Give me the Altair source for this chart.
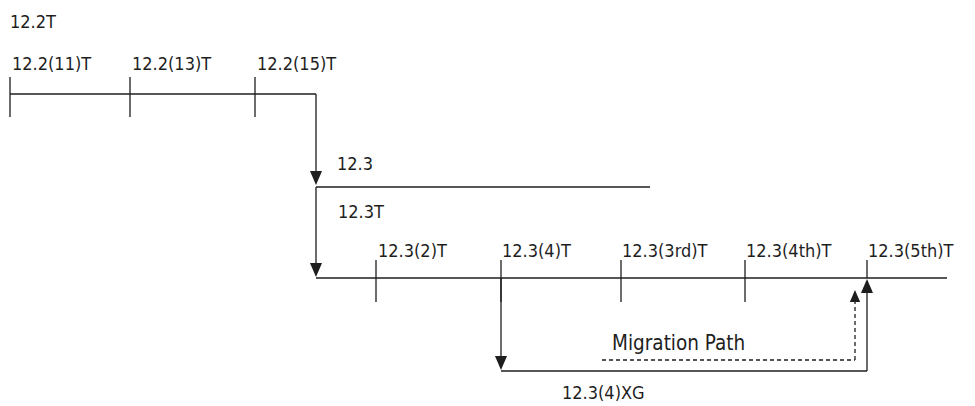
import altair as alt
import pandas as pd

# ---- diagram geometry (in picture pixel space) ----
# release lines (horizontal): name, x start, x end, y
line_names = ["12.2", "12.3", "12.3T", "12.3(4)XG"]
line_x1 = [10, 316, 316, 501]
line_x2 = [316, 650, 947, 867]
line_y = [94, 187, 278, 371]

# connectors (vertical, solid)
conn_x = [316, 316, 501, 867]
conn_y1 = [94, 187, 278, 371]
conn_y2 = [180, 272, 364, 284]

# migration path (dashed)
dash_x1 = [602, 855]
dash_x2 = [855, 855]
dash_y1 = [360, 360]
dash_y2 = [360, 296]

# release ticks
tick_x = [10, 130, 255, 376, 501, 621, 745, 867]
tick_y1 = [77, 77, 77, 260, 260, 260, 260, 260]
tick_y2 = [117, 117, 117, 302, 302, 302, 302, 278]

# arrow heads: tip position and direction
arrow_x = [316, 316, 501, 867, 855]
arrow_tip = [185, 277, 370, 279, 290]
arrow_dir = ["down", "down", "down", "up", "up"]
arrow_half = [7, 7, 7, 7, 6]

# release labels
label_text = ["12.2T", "12.2(11)T", "12.2(13)T", "12.2(15)T", "12.3", "12.3T",
              "12.3(2)T", "12.3(4)T", "12.3(3rd)T", "12.3(4th)T", "12.3(5th)T",
              "12.3(4)XG"]
label_x = [10, 12, 132, 257, 337, 338, 378, 502, 622, 746, 868, 562]
label_y = [28, 70, 70, 70, 170, 218, 257, 257, 257, 257, 257, 399]

# path caption
caption_text = ["Migration Path"]
caption_x = [612]
caption_y = [350]

INK = "#1e1e1e"
FONT = "'DejaVu Sans Condensed', 'Roboto Condensed', 'Arial Narrow', 'Liberation Sans'"

xs = alt.Scale(domain=[8, 967], nice=False, zero=False)
ys = alt.Scale(domain=[8, 406], reverse=True, nice=False, zero=False)

lines_df = pd.DataFrame({"name": line_names, "x1": line_x1, "x2": line_x2, "y1": line_y, "y2": line_y})
conn_df = pd.DataFrame({"x1": conn_x, "x2": conn_x, "y1": conn_y1, "y2": conn_y2})
dash_df = pd.DataFrame({"x1": dash_x1, "x2": dash_x2, "y1": dash_y1, "y2": dash_y2})
tick_df = pd.DataFrame({"x1": tick_x, "x2": tick_x, "y1": tick_y1, "y2": tick_y2})
arrow_df = pd.DataFrame({"x": arrow_x, "tip": arrow_tip, "dir": arrow_dir, "half": arrow_half})
label_df = pd.DataFrame({"text": label_text, "x": label_x, "y": label_y})
caption_df = pd.DataFrame({"text": caption_text, "x": caption_x, "y": caption_y})


def rules(df, dash=None):
    kw = dict(color=INK, strokeWidth=1.3)
    if dash:
        kw["strokeDash"] = dash
    return alt.Chart(df).mark_rule(**kw).encode(
        x=alt.X("x1:Q", scale=xs, axis=None),
        x2="x2:Q",
        y=alt.Y("y1:Q", scale=ys, axis=None),
        y2="y2:Q",
    )


down_path = "M-0.86,-1L0.86,-1L0,1Z"
up_path = "M-0.86,1L0.86,1L0,-1Z"


def arrow_layer(df, path, sign, size):
    return alt.Chart(df).transform_calculate(
        cy=f"datum.tip + ({sign}) * datum.half"
    ).mark_point(
        shape=path, filled=True, opacity=1, color=INK, strokeWidth=0,
    ).encode(
        x=alt.X("x:Q", scale=xs, axis=None),
        y=alt.Y("cy:Q", scale=ys, axis=None),
        size=alt.value(size),
    )


def text_layer(df, size):
    return alt.Chart(df).mark_text(
        align="left", baseline="alphabetic", font=FONT, fontSize=size, color=INK
    ).encode(
        x=alt.X("x:Q", scale=xs, axis=None),
        y=alt.Y("y:Q", scale=ys, axis=None),
        text="text:N",
    )


down_df = arrow_df[arrow_df["dir"] == "down"]
up_df = arrow_df[arrow_df["dir"] == "up"]
down_big = arrow_layer(down_df, down_path, -1, 196)
up_big = arrow_layer(up_df[up_df["half"] == 7], up_path, 1, 196)
up_small = arrow_layer(up_df[up_df["half"] == 6], up_path, 1, 144)

chart = alt.layer(
    rules(lines_df), rules(conn_df), rules(tick_df), rules(dash_df, dash=[4, 3]),
    down_big, up_big, up_small, text_layer(label_df, 18), text_layer(caption_df, 20.5),
).properties(
    width=959, height=398, padding=0, autosize=alt.AutoSizeParams(type="none"),
    background="white",
).configure_view(stroke=None)

chart.save("out.html", embed_options={"renderer": "svg", "actions": False})
